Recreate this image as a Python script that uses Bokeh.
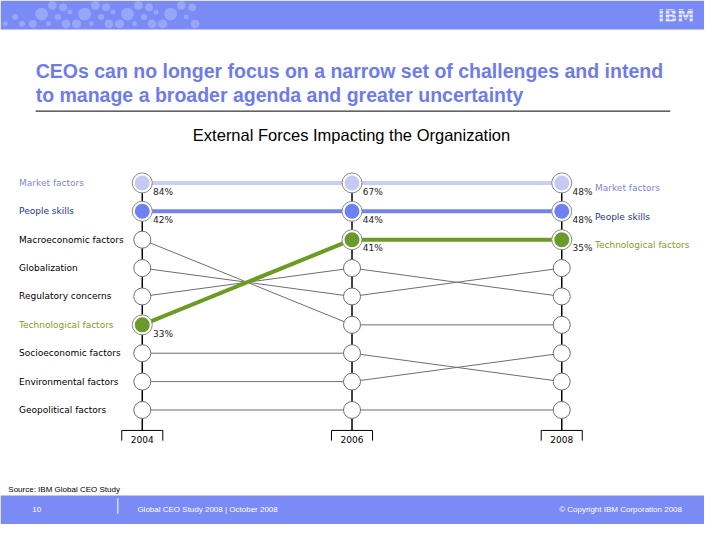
from bokeh.plotting import figure
from bokeh.models import Range1d
from bokeh.core.properties import value
from bokeh.embed import file_html
from bokeh.resources import INLINE

# ---------------- data ----------------
categories = ["Market factors", "People skills", "Macroeconomic factors", "Globalization",
              "Regulatory concerns", "Technological factors", "Socioeconomic factors",
              "Environmental factors", "Geopolitical factors"]
years = [2004, 2006, 2008]
rank_2004 = [1, 2, 3, 4, 5, 6, 7, 8, 9]
rank_2006 = [1, 2, 6, 5, 4, 3, 7, 8, 9]
rank_2008 = [1, 2, 6, 4, 5, 3, 8, 7, 9]
highlighted = ["Market factors", "People skills", "Technological factors"]
market_pct = ["84%", "67%", "48%"]
people_pct = ["42%", "44%", "48%"]
tech_pct = ["33%", "41%", "35%"]
year_labels = ["2004", "2006", "2008"]

title_lines = ["CEOs can no longer focus on a narrow set of challenges and intend",
               "to manage a broader agenda and greater uncertainty"]
subtitle = "External Forces Impacting the Organization"

# ---------------- styles ----------------
BAND = "#7B8BF5"
DOT = "#97A6F8"
TITLE_C = "#6E7CEA"
GREY = "#6E6E6E"
hl_fill = {"Market factors": "#C5CAF4", "People skills": "#6F80F0", "Technological factors": "#6A9A2A"}
hl_line = {"Market factors": "#C9CEF2", "People skills": "#7484E4", "Technological factors": "#6B9B22"}
hl_label = {"Market factors": "#8088CC", "People skills": "#28348C", "Technological factors": "#879A2A"}
FONT = value("DejaVu Sans")
AFONT = value("Liberation Sans")

W, H = 704, 524
RW, RH = 720, 540          # reference frame
X0, X1 = 145.0, 574.0      # 2004 / 2008 columns (reference px)
Y1, Y9 = 188.0, 422.0      # rank 1 / rank 9 rows (reference px)
sx = (X1 - X0) / (years[-1] - years[0])
sy = (Y9 - Y1) / (len(categories) - 1)
xr = Range1d(years[0] - X0 / sx, years[0] + (RW - X0) / sx)
yr = Range1d(1 + (RH - Y1) / sy, 1 - Y1 / sy)

p = figure(width=W, height=H, x_range=xr, y_range=yr, output_backend="svg",
           toolbar_location=None, min_border=0, outline_line_color=None,
           background_fill_color="white", border_fill_color="white")
p.axis.visible = False
p.grid.visible = False
p.extra_x_ranges = {"px": Range1d(0, RW)}
p.extra_y_ranges = {"py": Range1d(RH, 0)}
PX = dict(x_range_name="px", y_range_name="py")

# ---------------- header / footer bands ----------------
p.quad(left=[0], right=[RW], top=[0], bottom=[30], fill_color=BAND, line_color=None, **PX)
p.quad(left=[0], right=[RW], top=[510], bottom=[RH], fill_color=BAND, line_color=None, **PX)
motif = [(42, 14, 6.5), (53, 5, 4.5), (64, 7, 4), (71, 12, 2.5), (58, 17, 2.5),
         (33, 24, 4), (15, 17, 3), (22, 24, 3), (67, 24, 4.5), (78, 24, 4.5), (5, 24, 2.5)]
dx, dy, dr = [], [], []
for k in range(4):
    for (a, b, r) in motif:
        if a + 44 * k < 200:
            dx.append(a + 44 * k); dy.append(b); dr.append(r)
p.circle(x=dx, y=dy, radius=dr, fill_color=DOT, line_color=None, **PX)
p.text(x=[691], y=[16], text=["IBM"], text_font=value("DejaVu Sans"), text_font_style="bold",
       text_font_size="17px", text_color="#E6EAFF", text_align="center", text_baseline="middle", **PX)
p.segment(x0=[670] * 4, x1=[712] * 4, y0=[10, 14, 18, 22], y1=[10, 14, 18, 22],
          line_color=BAND, line_width=1, **PX)

# ---------------- title ----------------
p.text(x=[36, 36], y=[73, 97], text=title_lines, text_font=AFONT, text_font_style="bold",
       text_font_size="19.5px", text_color=TITLE_C, text_baseline="middle", **PX)
p.segment(x0=[36], x1=[685], y0=[114], y1=[114], line_color="black", line_width=1, **PX)
p.text(x=[359], y=[139], text=[subtitle], text_font=AFONT, text_font_size="16.5px",
       text_color="black", text_align="center", text_baseline="middle", **PX)

# ---------------- connector lines ----------------
ranks = [rank_2004, rank_2006, rank_2008]
for i, c in enumerate(categories):
    for j in range(len(years) - 1):
        if c in highlighted:
            continue
        p.segment(x0=[years[j]], x1=[years[j + 1]], y0=[ranks[j][i]], y1=[ranks[j + 1][i]],
                  line_color=GREY, line_width=1)
for i, c in enumerate(categories):
    if c in highlighted:
        p.line(x=years, y=[r[i] for r in ranks], line_color=hl_line[c], line_width=4)

# vertical year axes + brackets
n = len(categories)
ybot = n + 0.72
p.segment(x0=years, x1=years, y0=[1] * 3, y1=[ybot] * 3, line_color="black", line_width=1.5)
bw = 21 / sx
p.segment(x0=[y - bw for y in years], x1=[y + bw for y in years], y0=[ybot] * 3, y1=[ybot] * 3,
          line_color="black", line_width=1)
p.segment(x0=[y - bw for y in years] + [y + bw for y in years],
          x1=[y - bw for y in years] + [y + bw for y in years],
          y0=[ybot] * 6, y1=[ybot + 0.36] * 6, line_color="black", line_width=1)
p.text(x=years, y=[ybot + 0.33] * 3, text=year_labels, text_font=FONT, text_font_size="9px",
       text_color="black", text_align="center", text_baseline="middle")

# ---------------- circles ----------------
for j, yv in enumerate(years):
    for i, c in enumerate(categories):
        r = ranks[j][i]
        if c in highlighted:
            p.scatter(x=[yv], y=[r], size=20, fill_color="white", line_color="#8A8A8A", line_width=1)
            p.scatter(x=[yv], y=[r], size=15, fill_color=hl_fill[c], line_color=None)
        else:
            p.scatter(x=[yv], y=[r], size=17, fill_color="white", line_color=GREY, line_width=1)

# percentage labels
pct = {"Market factors": market_pct, "People skills": people_pct, "Technological factors": tech_pct}
for c, vals in pct.items():
    i = categories.index(c)
    p.text(x=[y + 11 / sx for y in years], y=[ranks[j][i] + 9 / sy for j in range(3)], text=vals,
           text_font=FONT, text_font_size="9px", text_color="#222222", text_baseline="middle")

# left labels
p.text(x=[19] * n, y=rank_2004, text=categories, text_font=FONT, text_font_size="9px",
       text_color=[hl_label.get(c, "black") for c in categories], text_baseline="middle",
       x_range_name="px")
# right labels
for c in highlighted:
    i = categories.index(c)
    p.text(x=[608], y=[rank_2008[i] + 5.5 / sy], text=[c], text_font=FONT, text_font_size="9px",
           text_color=hl_label[c], text_baseline="middle", x_range_name="px")

# ---------------- footer ----------------
p.text(x=[8], y=[504], text=["Source: IBM Global CEO Study"], text_font=AFONT,
       text_font_size="8px", text_color="black", text_baseline="middle", **PX)
p.text(x=[37], y=[525], text=["10"], text_font=AFONT, text_font_size="8px",
       text_color="white", text_align="center", text_baseline="middle", **PX)
p.segment(x0=[120], x1=[120], y0=[513], y1=[529], line_color="white", line_width=1, **PX)
p.text(x=[140], y=[525], text=["Global CEO Study 2008  |  October 2008"], text_font=AFONT,
       text_font_size="8px", text_color="white", text_baseline="middle", **PX)
p.text(x=[697], y=[525], text=["\u00a9 Copyright IBM Corporation 2008"], text_font=AFONT,
       text_font_size="8px", text_color="white", text_align="right", text_baseline="middle", **PX)

open("out.html", "w").write(file_html(p, INLINE))
